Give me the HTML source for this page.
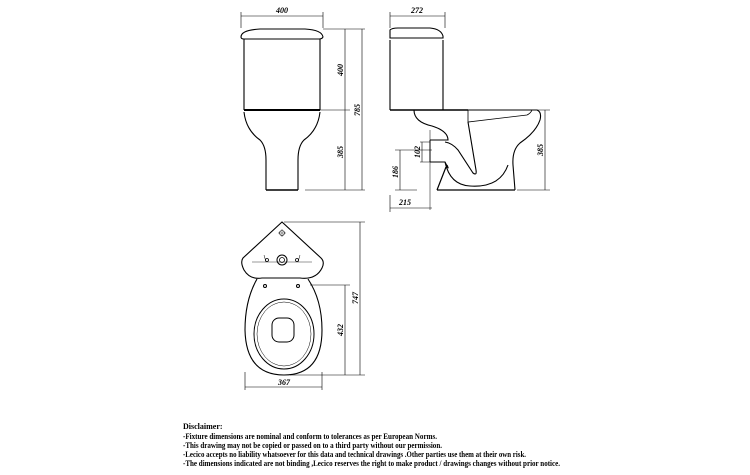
<!DOCTYPE html>
<html><head><style>
html,body{margin:0;padding:0;background:#fff;}
svg{display:block;}
.t{font-family:"Liberation Serif",serif;font-style:italic;font-weight:bold;font-size:8px;fill:#000;}
.d{font-family:"Liberation Serif",serif;font-weight:bold;font-size:8px;fill:#000;}
</style></head><body>
<svg width="750" height="475" viewBox="0 0 750 475" xmlns="http://www.w3.org/2000/svg">
<g fill="none" stroke="#000" stroke-width="1">
<path d="M241 12V28M323 12V28M241 16H323" stroke-width="0.6"/>
<path d="M241 37 Q241 30 260 29 L305 29 Q322 30 323 37 Q322 39 319 39 L244 39 Q241 39 241 37Z" stroke-width="1.1"/>
<path d="M244 39V110M320 39V110" stroke-width="1.1"/>
<path d="M244 110H320" stroke-width="2"/>
<path d="M244 112 Q246 130 260 140 Q266 146 266 160 L266 190 M320 112 Q318 130 304 140 Q298 146 298 160 L298 190" stroke-width="1.1"/>
<path d="M266 190H298" stroke-width="1.4"/>
<path d="M323 29H365M320 110H350M305 190H365M345 29V190M362 29V190" stroke-width="0.6"/>
<path d="M390 12V28M445 12V28M390 16H445" stroke-width="0.6"/>
<path d="M390 30 Q392 28 398 28 L430 28 Q441 29 443 36 L443 38 L390 38Z" stroke-width="1.1"/>
<path d="M390 38H443M390 40V110M443 40V110" stroke-width="1.1"/>
<path d="M390 110H468" stroke-width="1.6"/>
<path d="M468 110H537 Q542 112 540 120 Q536 132 520 143 Q512 150 513 165 L515 190" stroke-width="1.1"/>
<path d="M468 110V122 L527 115 Q531 113 532 110" stroke-width="0.8"/>
<path d="M414 110 Q414 122 432 126 Q448 131 448 140 L430 140 M430 162 L445 162 Q450 172 447 165 M445 162 Q450 185 470 186 Q500 188 508 165" stroke-width="1.1"/>
<path d="M468 122 L476 170 Q477 176 473 173 L458 150 Q452 143 445 142" stroke-width="1.1"/>
<path d="M437 190H515 M437 190 L446 167" stroke-width="1.2"/>
<path d="M430 140V162" stroke-width="1"/>
<path d="M430 140V130M430 162V210" stroke-width="0.5"/>
<path d="M515 110H550M517 190H550M545 110V190" stroke-width="0.6"/>
<path d="M395 150H432M395 190H417M400 150V190M420 142H430M420 162H430M422 142V162" stroke-width="0.6"/>
<path d="M390 195V212M390 208H432" stroke-width="0.6"/>
<path d="M282 222 L243 258 Q240 262 244 270 Q250 280 262 278 L300 278 Q316 280 322 268 Q325 262 321 258 Z" stroke-width="1.1"/>
<path d="M252 262 L312 262" stroke-width="0.4"/>
<path d="M264 255 L266 262 M300 255 L298 262" stroke-width="0.5"/>
<circle cx="282" cy="260" r="5" stroke-width="1"/><circle cx="282" cy="260" r="2.5" stroke-width="0.8"/>
<circle cx="267" cy="260" r="1.5" stroke-width="0.8"/><circle cx="297" cy="260" r="1.5" stroke-width="0.8"/>
<circle cx="282" cy="233" r="2.5" stroke-width="0.6"/><path d="M278 233H286M282 229V237" stroke-width="0.4"/>
<path d="M257 279 Q245 300 245 330 Q246 375 284 375 Q322 375 322 330 Q322 300 308 279" stroke-width="1.1"/>
<ellipse cx="284" cy="334" rx="30" ry="35" stroke-width="1"/>
<ellipse cx="284" cy="334" rx="27" ry="32" stroke-width="0.5"/>
<rect x="272" y="318" width="22" height="24" rx="7" stroke-width="1"/>
<circle cx="265" cy="286" r="1.5" stroke-width="1"/><circle cx="298" cy="286" r="1.5" stroke-width="1"/>
<path d="M284 222H365M310 285H350M290 375H365M345 285V375M360 222V375" stroke-width="0.6"/>
<path d="M245 372V390M322 372V390M245 387H322" stroke-width="0.6"/>
</g>
<g>
<text class="t" x="282" y="13" text-anchor="middle">400</text>
<text class="t" x="417" y="13" text-anchor="middle">272</text>
<text class="t" x="284" y="385" text-anchor="middle">367</text>
<text class="t" x="405" y="205" text-anchor="middle">215</text>
<text class="t" transform="translate(343,70) rotate(-90)" text-anchor="middle">400</text>
<text class="t" transform="translate(343,152) rotate(-90)" text-anchor="middle">385</text>
<text class="t" transform="translate(360,110) rotate(-90)" text-anchor="middle">785</text>
<text class="t" transform="translate(543,150) rotate(-90)" text-anchor="middle">385</text>
<text class="t" transform="translate(398,172) rotate(-90)" text-anchor="middle">186</text>
<text class="t" transform="translate(420,152) rotate(-90)" text-anchor="middle">102</text>
<text class="t" transform="translate(343,330) rotate(-90)" text-anchor="middle">432</text>
<text class="t" transform="translate(358,298) rotate(-90)" text-anchor="middle">747</text>
</g>
<g>
<text class="d" x="183" y="429">Disclaimer:</text>
<text class="d" x="183" y="439" textLength="254" lengthAdjust="spacingAndGlyphs">-Fixture dimensions are nominal and conform to tolerances as per European Norms.</text>
<text class="d" x="183" y="448" textLength="259" lengthAdjust="spacingAndGlyphs">-This drawing may not be copied or passed on to a third party without our permission.</text>
<text class="d" x="183" y="457" textLength="343" lengthAdjust="spacingAndGlyphs">-Lecico accepts no liability whatsoever for this data and technical drawings .Other parties use them at their own risk.</text>
<text class="d" x="183" y="466" textLength="377" lengthAdjust="spacingAndGlyphs">-The dimensions indicated are not binding ,Lecico reserves the right to make product / drawings changes without prior notice.</text>
</g>
</svg>
</body></html>
